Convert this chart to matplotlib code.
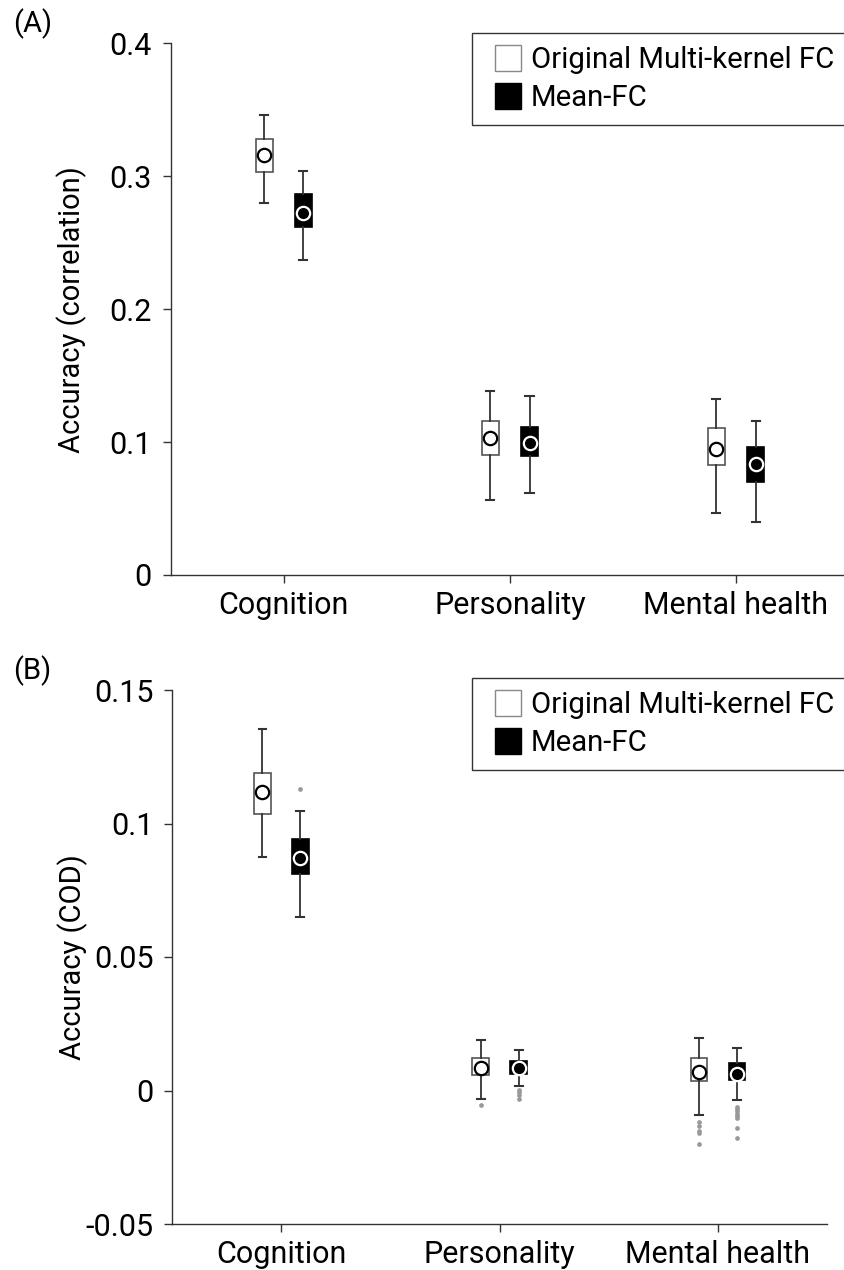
import matplotlib
matplotlib.use("Agg")
import matplotlib.pyplot as plt
from matplotlib.patches import Patch, Rectangle
from matplotlib.legend_handler import HandlerPatch

plt.rcParams['font.family'] = ['Roboto', 'DejaVu Sans']

categories = ["Cognition", "Personality", "Mental health"]
series_names = ["Original Multi-kernel FC", "Mean-FC"]

# Panel A: accuracy (correlation) -- [whislo, q1, med, q3, whishi]
corr_orig = [[0.2798, 0.3029, 0.3157, 0.3280, 0.3464],
             [0.0561, 0.0906, 0.1034, 0.1157, 0.1384],
             [0.0465, 0.0828, 0.0951, 0.1107, 0.1321]]
corr_mean = [[0.2370, 0.2621, 0.2727, 0.2863, 0.3042],
             [0.0616, 0.0896, 0.0994, 0.1112, 0.1343],
             [0.0402, 0.0702, 0.0835, 0.0964, 0.1162]]
corr_orig_fliers = [[], [], []]
corr_mean_fliers = [[], [], []]

# Panel B: accuracy (COD)
cod_orig = [[0.0874, 0.1035, 0.1117, 0.1190, 0.1353],
            [-0.0033, 0.0057, 0.0084, 0.0123, 0.0189],
            [-0.0092, 0.0036, 0.0070, 0.0123, 0.0197]]
cod_mean = [[0.0651, 0.0812, 0.0870, 0.0941, 0.1046],
            [0.0017, 0.0062, 0.0084, 0.0110, 0.0153],
            [-0.0037, 0.0039, 0.0062, 0.0102, 0.0158]]
cod_orig_fliers = [[], [-0.0053], [-0.0117, -0.0133, -0.0150, -0.0160, -0.0200]]
cod_mean_fliers = [[0.1129], [0.0002, -0.0007, -0.0015, -0.0033],
                   [-0.0061, -0.0069, -0.0078, -0.0087, -0.0095, -0.0104, -0.0139, -0.0179]]

yticks_a = [0, 0.1, 0.2, 0.3, 0.4]
yticklabels_a = ["0", "0.1", "0.2", "0.3", "0.4"]
yticks_b = [-0.05, 0, 0.05, 0.1, 0.15]
yticklabels_b = ["-0.05", "0", "0.05", "0.1", "0.15"]

W, H = 844, 1270
fig = plt.figure(figsize=(W / 100, H / 100), dpi=100)

FS = 21
FS_TICK = 22
FS_LEG = 21.2
SPINE = '#333333'


def stats_list(vals, fliers):
    out = []
    for v, f in zip(vals, fliers):
        out.append(dict(whislo=v[0], q1=v[1], med=v[2], q3=v[3], whishi=v[4], fliers=f))
    return out


def draw_panel(ax, orig, mean, of, mf, yticks, ylabels, ylim, ylabel, labx):
    off = 0.087
    bw = 0.075
    pos = [i + 1 for i in range(len(categories))]
    for vals, fl, dx, face, edge, mface, medge in [
            (orig, of, -off, 'white', '#555555', 'white', 'black'),
            (mean, mf, off, 'black', 'black', 'black', 'white')]:
        st = stats_list(vals, fl)
        p = [x + dx for x in pos]
        ax.bxp(st, positions=p, widths=bw, capwidths=0.036, patch_artist=True,
               showfliers=True,
               boxprops=dict(facecolor=face, edgecolor=edge, linewidth=1.2),
               whiskerprops=dict(color='#333333', linewidth=1.3),
               capprops=dict(color='#333333', linewidth=1.5),
               medianprops=dict(linewidth=0, color=face),
               flierprops=dict(marker='o', markersize=3.4, markerfacecolor='#999999',
                               markeredgecolor='none'))
        ax.plot(p, [v[2] for v in vals], linestyle='none', marker='o', markersize=9.6,
                markerfacecolor=mface, markeredgecolor=medge, markeredgewidth=1.6, zorder=5)
    ax.set_xlim(0.5, 3.5)
    ax.set_ylim(*ylim)
    ax.set_xticks(pos)
    ax.set_xticklabels(categories, fontsize=FS_TICK)
    ax.set_yticks(yticks)
    ax.set_yticklabels(ylabels, fontsize=FS_TICK)
    for s in ['top', 'right']:
        ax.spines[s].set_visible(False)
    for s in ['left', 'bottom']:
        ax.spines[s].set_color(SPINE)
        ax.spines[s].set_linewidth(1.0)
    ax.tick_params(axis='both', direction='out', length=5.5, width=1.0, color=SPINE)
    ax.tick_params(axis='y', pad=8)
    ax.tick_params(axis='x', pad=6)
    ax.set_ylabel(ylabel, fontsize=FS)
    ax.yaxis.set_label_coords(labx, 0.5)


class SquareHandler(HandlerPatch):
    def create_artists(self, legend, orig_handle, xdescent, ydescent, width, height,
                       fontsize, trans):
        side = height
        r = Rectangle((width - side - xdescent, -ydescent), side, side,
                      facecolor=orig_handle.get_facecolor(),
                      edgecolor=orig_handle.get_edgecolor(), linewidth=1.0,
                      transform=trans)
        return [r]


def add_legend(ax, top_px):
    handles = [Patch(facecolor='white', edgecolor='#888888'),
               Patch(facecolor='black', edgecolor='black')]
    leg = ax.legend(handles, series_names, loc='upper left',
                    bbox_to_anchor=(472 / W, 1 - top_px / H), bbox_transform=fig.transFigure,
                    borderaxespad=0, fontsize=FS_LEG, frameon=True, fancybox=False,
                    framealpha=1, edgecolor='#333333', borderpad=0.42,
                    handlelength=1.25, handleheight=0.98, handletextpad=0.32,
                    labelspacing=0.3,
                    handler_map={Patch: SquareHandler()})
    leg.get_frame().set_linewidth(1.0)


# Panel A
axA = fig.add_axes([170.7 / W, 1 - 575 / H, (849 - 170.7) / W, (575 - 43.3) / H])
draw_panel(axA, corr_orig, corr_mean, corr_orig_fliers, corr_mean_fliers,
           yticks_a, yticklabels_a, (0, 0.4), "Accuracy (correlation)", -0.123)
add_legend(axA, 33)

# Panel B
axB = fig.add_axes([172.3 / W, 1 - 1224 / H, (827 - 172.3) / W, (1224 - 690) / H])
draw_panel(axB, cod_orig, cod_mean, cod_orig_fliers, cod_mean_fliers,
           yticks_b, yticklabels_b, (-0.05, 0.15), "Accuracy (COD)", -0.129)
add_legend(axB, 678)

fig.text(13 / W, 1 - 8 / H, "(A)", fontsize=FS, ha='left', va='top')
fig.text(13 / W, 1 - 655 / H, "(B)", fontsize=FS, ha='left', va='top')

fig.savefig("out.png", dpi=100)
